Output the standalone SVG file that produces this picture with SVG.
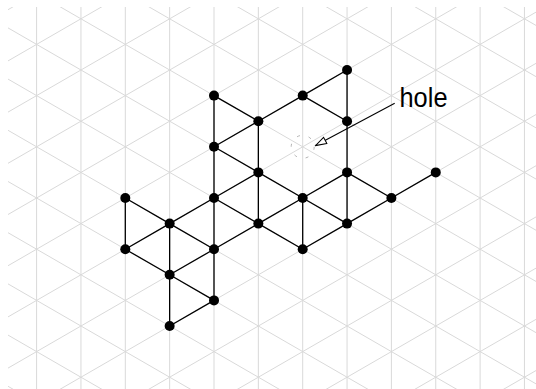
<svg xmlns="http://www.w3.org/2000/svg" width="536" height="389" viewBox="0 0 536 389">
<style>
.grid{stroke:#d9d9d9;stroke-width:1;fill:none}
.edge{stroke:#000;stroke-width:1.3;fill:none}
.node{fill:#000}
.hole{fill:none;stroke:#aaaaaa;stroke-width:0.9;stroke-dasharray:3 9}
.label{font-family:"Liberation Sans",Arial,sans-serif;font-size:28px;fill:#000}
</style>
<defs>
<clipPath id="gclip"><rect x="8" y="7" width="528" height="382"/></clipPath>
<marker id="openArrow" markerUnits="userSpaceOnUse" viewBox="0 0 13 9" refX="12" refY="4.5" markerWidth="13" markerHeight="9" orient="auto">
<path d="M1,1 L12,4.5 L1,8 z" fill="#fff" stroke="#000" stroke-width="1"/>
</marker>
</defs>
<rect width="536" height="389" fill="#fff"/>
<g id="grid" class="grid" clip-path="url(#gclip)">
<path d="M36.6,7V389M80.95,7V389M125.3,7V389M169.65,7V389M214,7V389M258.35,7V389M302.7,7V389M347.05,7V389M391.4,7V389M435.75,7V389M480.1,7V389M524.45,7V389"/>
<path d="M8,-279.31L536,25.45M8,-228.11L536,76.65M8,-176.91L536,127.85M8,-125.71L536,179.05M8,-74.51L536,230.25M8,-23.31L536,281.45M8,27.89L536,332.65M8,79.09L536,383.85M8,130.29L536,435.05M8,181.49L536,486.25M8,232.69L536,537.45M8,283.89L536,588.65M8,335.09L536,639.85M8,386.29L536,691.05"/>
<path d="M8,9.71L536,-295.05M8,60.91L536,-243.85M8,112.11L536,-192.65M8,163.31L536,-141.45M8,214.51L536,-90.25M8,265.71L536,-39.05M8,316.91L536,12.15M8,368.11L536,63.35M8,419.31L536,114.55M8,470.51L536,165.75M8,521.71L536,216.95M8,572.91L536,268.15M8,624.11L536,319.35M8,675.31L536,370.55"/>
</g>
<g id="connectors" class="edge">
<line x1="347.05" y1="70" x2="302.7" y2="95.6"/>
<line x1="347.05" y1="70" x2="347.05" y2="121.2"/>
<line x1="347.05" y1="121.2" x2="347.05" y2="172.4"/>
<line x1="347.05" y1="172.4" x2="347.05" y2="223.6"/>
<line x1="302.7" y1="95.6" x2="258.35" y2="121.2"/>
<line x1="302.7" y1="95.6" x2="347.05" y2="121.2"/>
<line x1="214" y1="95.6" x2="258.35" y2="121.2"/>
<line x1="214" y1="95.6" x2="214" y2="146.8"/>
<line x1="258.35" y1="121.2" x2="214" y2="146.8"/>
<line x1="258.35" y1="121.2" x2="258.35" y2="172.4"/>
<line x1="214" y1="146.8" x2="258.35" y2="172.4"/>
<line x1="214" y1="146.8" x2="214" y2="198"/>
<line x1="258.35" y1="172.4" x2="214" y2="198"/>
<line x1="258.35" y1="172.4" x2="302.7" y2="198"/>
<line x1="258.35" y1="172.4" x2="258.35" y2="223.6"/>
<line x1="347.05" y1="172.4" x2="302.7" y2="198"/>
<line x1="347.05" y1="172.4" x2="391.4" y2="198"/>
<line x1="391.4" y1="198" x2="435.75" y2="172.4"/>
<line x1="391.4" y1="198" x2="347.05" y2="223.6"/>
<line x1="302.7" y1="198" x2="347.05" y2="223.6"/>
<line x1="302.7" y1="198" x2="258.35" y2="223.6"/>
<line x1="302.7" y1="198" x2="302.7" y2="249.2"/>
<line x1="258.35" y1="223.6" x2="302.7" y2="249.2"/>
<line x1="302.7" y1="249.2" x2="347.05" y2="223.6"/>
<line x1="214" y1="198" x2="258.35" y2="223.6"/>
<line x1="214" y1="198" x2="169.65" y2="223.6"/>
<line x1="214" y1="198" x2="214" y2="249.2"/>
<line x1="258.35" y1="223.6" x2="214" y2="249.2"/>
<line x1="125.3" y1="198" x2="169.65" y2="223.6"/>
<line x1="125.3" y1="198" x2="125.3" y2="249.2"/>
<line x1="169.65" y1="223.6" x2="125.3" y2="249.2"/>
<line x1="169.65" y1="223.6" x2="214" y2="249.2"/>
<line x1="169.65" y1="223.6" x2="169.65" y2="274.8"/>
<line x1="169.65" y1="274.8" x2="169.65" y2="326"/>
<line x1="125.3" y1="249.2" x2="169.65" y2="274.8"/>
<line x1="214" y1="249.2" x2="169.65" y2="274.8"/>
<line x1="214" y1="249.2" x2="214" y2="300.4"/>
<line x1="169.65" y1="274.8" x2="214" y2="300.4"/>
<line x1="214" y1="300.4" x2="169.65" y2="326"/>
</g>
<g id="hole">
<circle class="hole" cx="302.7" cy="146.8" r="11.5"/>
</g>
<g id="hole-label">
<line x1="394.7" y1="103.3" x2="315.5" y2="145.6" stroke="#000" stroke-width="1.1" marker-end="url(#openArrow)"/>
<text class="label" x="399.5" y="106.7" textLength="48" lengthAdjust="spacingAndGlyphs">hole</text>
</g>
<g id="nodes" class="node">
<g id="nA"><circle cx="347.05" cy="70" r="5"/></g>
<g id="nB"><circle cx="214" cy="95.6" r="5"/></g>
<g id="nC"><circle cx="302.7" cy="95.6" r="5"/></g>
<g id="nD"><circle cx="258.35" cy="121.2" r="5"/></g>
<g id="nE"><circle cx="347.05" cy="121.2" r="5"/></g>
<g id="nF"><circle cx="214" cy="146.8" r="5"/></g>
<g id="nG"><circle cx="258.35" cy="172.4" r="5"/></g>
<g id="nH"><circle cx="347.05" cy="172.4" r="5"/></g>
<g id="nI"><circle cx="435.75" cy="172.4" r="5"/></g>
<g id="nJ"><circle cx="125.3" cy="198" r="5"/></g>
<g id="nK"><circle cx="214" cy="198" r="5"/></g>
<g id="nL"><circle cx="302.7" cy="198" r="5"/></g>
<g id="nM"><circle cx="391.4" cy="198" r="5"/></g>
<g id="nN"><circle cx="169.65" cy="223.6" r="5"/></g>
<g id="nO"><circle cx="258.35" cy="223.6" r="5"/></g>
<g id="nP"><circle cx="347.05" cy="223.6" r="5"/></g>
<g id="nQ"><circle cx="125.3" cy="249.2" r="5"/></g>
<g id="nR"><circle cx="214" cy="249.2" r="5"/></g>
<g id="nS"><circle cx="302.7" cy="249.2" r="5"/></g>
<g id="nT"><circle cx="169.65" cy="274.8" r="5"/></g>
<g id="nU"><circle cx="214" cy="300.4" r="5"/></g>
<g id="nV"><circle cx="169.65" cy="326" r="5"/></g>
</g>
</svg>
